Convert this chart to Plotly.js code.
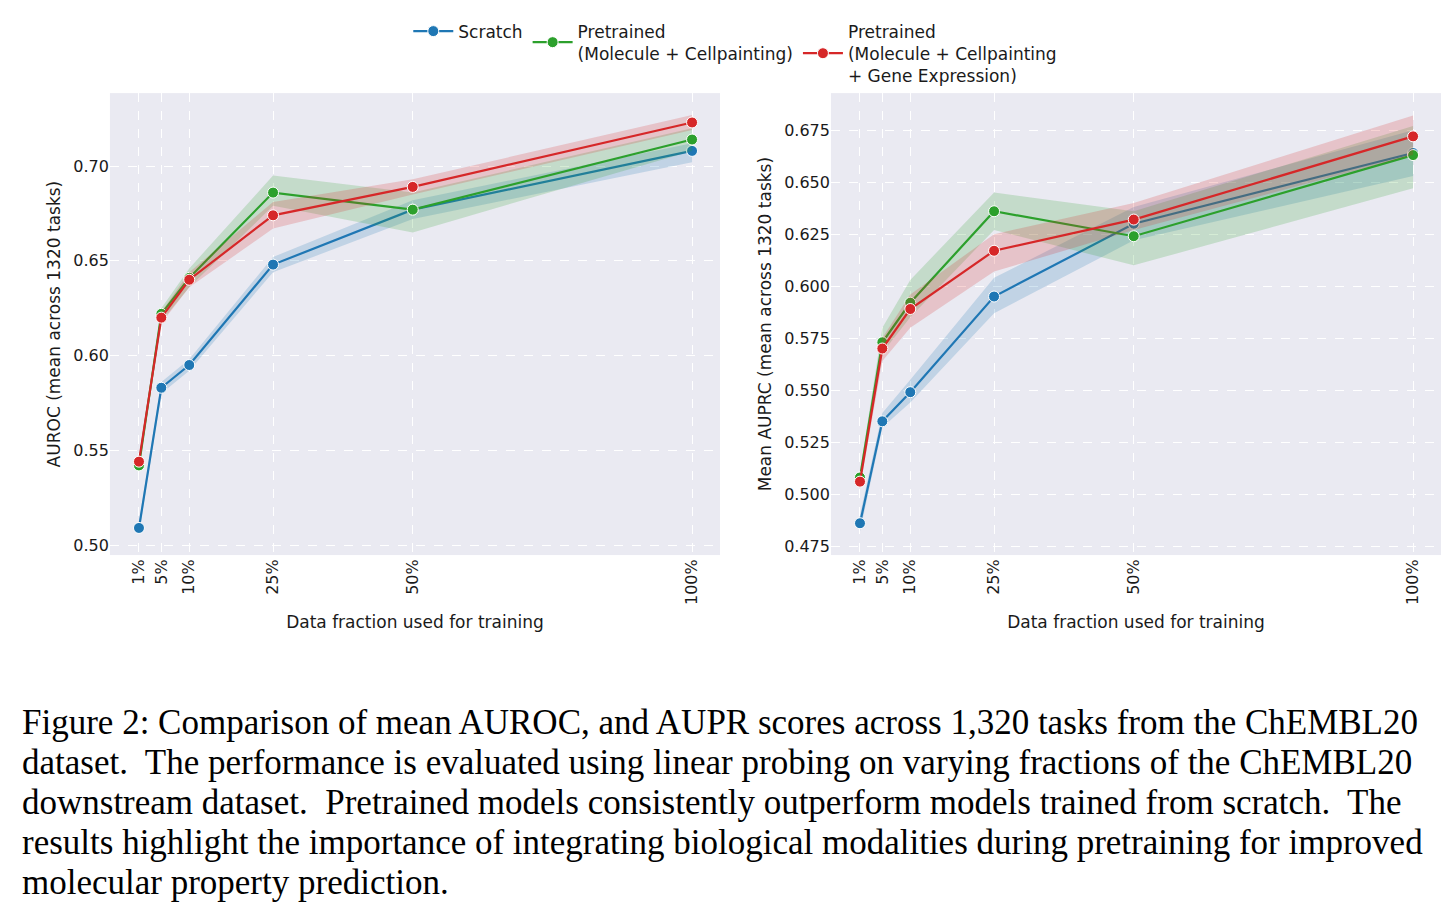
<!DOCTYPE html>
<html>
<head>
<meta charset="utf-8">
<script src="https://cdn.plot.ly/plotly-3.0.1.min.js"></script>
<style>body{margin:0;background:#fff}#plot{width:1456px;height:904px}</style>
</head>
<body>
<div id="plot"></div>
<script>
// data fraction (%) used for training
let fractions = [1, 5, 10, 25, 50, 100];
let tickLabels = ['1%', '5%', '10%', '25%', '50%', '100%'];

// AUROC (left panel)
let aurocScratch = [0.509, 0.583, 0.595, 0.648, 0.677, 0.708];
let aurocScratchLo = [0.506, 0.580, 0.592, 0.644, 0.672, 0.702];
let aurocScratchHi = [0.512, 0.586, 0.598, 0.652, 0.682, 0.712];
let aurocMC = [0.542, 0.622, 0.641, 0.686, 0.677, 0.714];
let aurocMCLo = [0.539, 0.618, 0.636, 0.679, 0.665, 0.708];
let aurocMCHi = [0.545, 0.625, 0.646, 0.695, 0.686, 0.720];
let aurocMCG = [0.544, 0.620, 0.640, 0.674, 0.689, 0.723];
let aurocMCGLo = [0.541, 0.617, 0.636, 0.667, 0.685, 0.719];
let aurocMCGHi = [0.547, 0.623, 0.644, 0.681, 0.693, 0.727];

// AUPRC (right panel)
let auprcScratch = [0.486, 0.535, 0.549, 0.595, 0.630, 0.664];
let auprcScratchLo = [0.482, 0.532, 0.544, 0.587, 0.622, 0.653];
let auprcScratchHi = [0.490, 0.539, 0.555, 0.604, 0.638, 0.675];
let auprcMC = [0.508, 0.573, 0.592, 0.636, 0.624, 0.663];
let auprcMCLo = [0.505, 0.568, 0.585, 0.627, 0.610, 0.647];
let auprcMCHi = [0.511, 0.580, 0.603, 0.645, 0.636, 0.677];
let auprcMCG = [0.506, 0.570, 0.589, 0.617, 0.632, 0.672];
let auprcMCGLo = [0.503, 0.564, 0.580, 0.607, 0.627, 0.663];
let auprcMCGHi = [0.509, 0.575, 0.596, 0.625, 0.640, 0.682];

let blue = '#1f77b4', green = '#2ca02c', red = '#d62728';
let bandFill = {};
bandFill[blue] = 'rgba(31,119,180,0.2)';
bandFill[green] = 'rgba(44,160,44,0.2)';
bandFill[red] = 'rgba(214,39,40,0.2)';

function series(name, y, lo, hi, color, xa, ya, legend) {
  return [
    {x: fractions, y: lo, xaxis: xa, yaxis: ya, mode: 'lines', line: {width: 0}, showlegend: false, hoverinfo: 'skip'},
    {x: fractions, y: hi, xaxis: xa, yaxis: ya, mode: 'lines', line: {width: 0}, fill: 'tonexty', fillcolor: bandFill[color], showlegend: false, hoverinfo: 'skip'},
    {x: fractions, y: y, xaxis: xa, yaxis: ya, name: name, mode: 'lines+markers', showlegend: legend,
     line: {color: color, width: 2.2}, marker: {color: color, size: 11, line: {color: 'white', width: 1}}}
  ];
}

let nS = 'Scratch';
let nMC = 'Pretrained<br>(Molecule + Cellpainting)';
let nMCG = 'Pretrained<br>(Molecule + Cellpainting<br>+ Gene Expression)';

let data = [].concat(
  series(nS, aurocScratch, aurocScratchLo, aurocScratchHi, blue, 'x', 'y', true),
  series(nMC, aurocMC, aurocMCLo, aurocMCHi, green, 'x', 'y', true),
  series(nMCG, aurocMCG, aurocMCGLo, aurocMCGHi, red, 'x', 'y', true),
  series(nS, auprcScratch, auprcScratchLo, auprcScratchHi, blue, 'x2', 'y2', false),
  series(nMC, auprcMC, auprcMCLo, auprcMCHi, green, 'x2', 'y2', false),
  series(nMCG, auprcMCG, auprcMCGLo, auprcMCGHi, red, 'x2', 'y2', false)
);

let font = {family: 'DejaVu Sans', size: 16, color: '#1a1a1a'};
let titleFont = {family: 'DejaVu Sans', size: 17, color: '#1a1a1a'};
function xax(dom) {
  return {domain: dom, range: [-4.2, 105], tickvals: fractions, ticktext: tickLabels, tickangle: -90,
    gridcolor: 'white', griddash: 'dash', zeroline: false, showline: false, ticks: '',
    tickfont: font, title: {text: 'Data fraction used for training', font: titleFont, standoff: 12}};
}
function yax(range, dtick, fmt, title) {
  return {range: range, dtick: dtick, tickformat: fmt, gridcolor: 'white', griddash: 'dash', zeroline: false,
    showline: false, ticks: '', tickfont: font, domain: [0.386, 0.897],
    title: {text: title, font: titleFont, standoff: 8}};
}

let caption = [
  'Figure 2: Comparison of mean AUROC, and AUPR scores across 1,320 tasks from the ChEMBL20',
  'dataset.  The performance is evaluated using linear probing on varying fractions of the ChEMBL20',
  'downstream dataset.  Pretrained models consistently outperform models trained from scratch.  The',
  'results highlight the importance of integrating biological modalities during pretraining for improved',
  'molecular property prediction.'
];
let annotations = caption.map((t, i) => ({
  text: t, xref: 'paper', yref: 'paper', x: 20 / 1456, y: 1 - (722 + 40 * i) / 904,
  xanchor: 'left', yanchor: 'middle', showarrow: false,
  font: {family: 'Liberation Serif', size: 35, color: '#000'}
}));

let layout = {
  width: 1456, height: 904,
  margin: {l: 0, r: 0, t: 0, b: 0},
  paper_bgcolor: 'white', plot_bgcolor: '#eaeaf2',
  showlegend: true,
  legend: {orientation: 'h', traceorder: 'normal', valign: 'middle', x: 0.505, xanchor: 'center', y: 0.985, yanchor: 'top',
    font: {family: 'DejaVu Sans', size: 17, color: '#1a1a1a'}, itemwidth: 40, bgcolor: 'rgba(0,0,0,0)'},
  xaxis: xax([0.0755, 0.4945]),
  yaxis: yax([0.4947, 0.7385], 0.05, '.2f', 'AUROC (mean across 1320 tasks)'),
  xaxis2: Object.assign(xax([0.5707, 0.9897]), {anchor: 'y2'}),
  yaxis2: Object.assign(yax([0.4707, 0.6928], 0.025, '.3f', 'Mean AUPRC (mean across 1320 tasks)'), {anchor: 'x2'}),
  annotations: annotations
};
layout.xaxis.anchor = 'y';

Plotly.newPlot('plot', data, layout, {displayModeBar: false});
</script>
</body>
</html>
